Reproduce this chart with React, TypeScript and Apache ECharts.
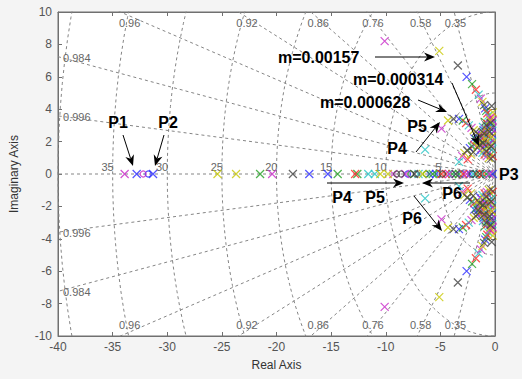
import React, { useEffect, useRef } from "react";
import * as echarts from "echarts";

// ---- axis setup ----
const X_MIN = -40;
const X_MAX = 0;
const X_STEP = 5;
const Y_MIN = -10;
const Y_MAX = 10;
const Y_STEP = 2;

// ---- s-plane grid (sgrid) ----
const dampingRatios = [0.35, 0.58, 0.76, 0.86, 0.92, 0.96, 0.984, 0.996];
const naturalFreqs = [5, 10, 15, 20, 25, 30, 35, 40];
const freqLabels = [5, 10, 15, 20, 25, 30, 35];

// ---- poles on the real axis (x markers) [re, color] ----
const realPoles: [number, string][] = [
  [-33.9, "m"], [-32.8, "b"], [-31.3, "b"], [-25.4, "y"], [-23.7, "y"],
  [-21.5, "g"], [-20.4, "m"], [-18.5, "k"], [-17.0, "b"], [-15.3, "b"],
  [-14.4, "g"], [-12.8, "r"], [-12.6, "g"], [-11.6, "c"], [-11.0, "c"],
  [-10.5, "y"], [-9.8, "y"], [-9.3, "m"], [-8.2, "m"], [-7.4, "k"],
  [-7.0, "c"], [-6.6, "y"], [-6.0, "b"], [-5.7, "g"], [-5.4, "b"],
  [-4.9, "r"], [-4.5, "r"], [-4.2, "m"], [-3.9, "g"], [-3.6, "k"],
  [-3.3, "g"], [-2.9, "r"], [-2.6, "m"], [-2.3, "b"], [-2.0, "c"],
  [-1.7, "g"], [-1.4, "k"], [-1.1, "r"], [-0.8, "g"], [-0.5, "m"], [-0.2, "b"],
];

// ---- zeros on the real axis (o markers) [re, color] ----
const realZeros: [number, string][] = [
  [-32.2, "m"], [-31.75, "b"], [-9.0, "k"], [-8.6, "k"], [-8.0, "b"],
  [-7.7, "g"], [-7.2, "k"], [-6.3, "g"], [-5.2, "g"], [-4.8, "k"],
  [-4.0, "c"], [-3.1, "b"], [-2.1, "k"], [-1.5, "r"], [-0.9, "c"],
];

// ---- complex poles, upper half-plane (mirrored) [re, im, color] ----
const complexPoles: [number, number, string][] = [
  [-10.1, 8.2, "m"], [-5.1, 7.6, "y"], [-3.4, 6.7, "k"], [-2.6, 6.0, "b"],
  [-2.1, 5.55, "g"], [-1.75, 5.2, "r"], [-1.5, 4.9, "c"], [-1.3, 4.65, "m"],
  [-1.15, 4.45, "y"], [-1.0, 4.25, "k"], [-0.9, 4.05, "b"], [-0.8, 3.9, "g"],
  [-0.7, 3.75, "r"], [-0.6, 3.6, "c"], [-0.5, 3.45, "m"], [-0.45, 3.3, "y"],
  [-0.4, 3.15, "k"], [-0.35, 3.0, "b"],
  [-6.4, 1.5, "c"], [-4.9, 2.8, "m"], [-4.3, 3.3, "y"], [-3.8, 3.4, "k"],
  [-3.3, 3.4, "b"], [-2.95, 3.3, "g"], [-2.65, 3.15, "r"], [-2.4, 3.0, "c"],
  [-2.15, 2.85, "m"], [-1.95, 2.7, "y"], [-1.75, 2.6, "k"], [-1.6, 2.5, "b"],
  [-1.45, 2.4, "g"], [-1.3, 2.3, "r"],
  [-3.3, 0.75, "c"], [-3.0, 1.1, "m"], [-2.8, 1.3, "y"], [-2.55, 1.45, "k"],
  [-2.3, 1.6, "b"], [-2.1, 1.7, "g"], [-1.9, 1.8, "r"], [-1.7, 1.9, "c"],
  [-1.5, 2.0, "m"],
  [-1.2, 2.6, "y"], [-1.0, 2.5, "k"], [-0.8, 2.4, "b"], [-0.6, 2.3, "g"], [-0.4, 2.2, "r"],
  [-1.1, 2.9, "c"], [-0.9, 2.8, "m"], [-0.7, 2.7, "y"], [-0.5, 2.6, "k"], [-0.3, 2.5, "b"],
  [-0.9, 3.2, "g"], [-0.7, 3.1, "r"], [-0.5, 3.0, "c"], [-0.25, 2.8, "m"],
  [-1.3, 2.0, "y"], [-1.1, 1.9, "k"], [-0.9, 1.8, "b"], [-0.7, 1.7, "g"], [-0.5, 1.6, "r"], [-0.3, 1.5, "c"],
  [-1.2, 1.6, "m"], [-1.0, 1.5, "y"], [-0.8, 1.4, "k"], [-0.6, 1.3, "b"], [-0.4, 1.2, "g"], [-0.2, 1.1, "r"],
  [-0.25, 2.0, "c"], [-0.2, 3.3, "m"], [-0.2, 3.8, "y"], [-0.3, 4.2, "k"],
  [-1.9, 2.2, "b"], [-1.7, 2.1, "g"], [-1.55, 2.25, "k"], [-1.4, 2.15, "c"], [-1.25, 2.45, "m"],
  [-1.05, 2.3, "r"], [-0.85, 2.15, "y"], [-0.65, 2.0, "c"], [-0.45, 1.9, "m"], [-0.35, 1.7, "k"],
  [-1.0, 2.05, "g"], [-0.8, 1.95, "r"], [-0.6, 1.85, "b"], [-0.4, 1.75, "y"],
  [-1.05, 2.7, "b"], [-0.85, 2.6, "r"], [-0.65, 2.5, "c"], [-0.45, 2.4, "m"], [-0.3, 2.3, "y"],
  [-0.8, 3.0, "k"], [-0.6, 2.9, "b"], [-0.4, 2.8, "g"], [-0.35, 3.5, "r"], [-0.25, 3.1, "c"],
  [-1.4, 1.8, "k"], [-1.6, 1.7, "y"], [-1.35, 1.45, "b"], [-1.15, 1.3, "c"], [-0.95, 1.2, "r"],
  [-0.75, 1.1, "m"], [-0.55, 1.0, "y"], [-0.35, 0.95, "k"],
  [-2.5, 0.9, "r"], [-2.2, 1.2, "y"], [-2.0, 1.35, "k"],
];

// ---- annotations (pixel layout) ----
const annotations: { text: string; x: number; y: number; align: string }[] = [
  { text: "P1", x: 118, y: 122, align: "center" },
  { text: "P2", x: 168, y: 122, align: "center" },
  { text: "m=0.00157", x: 278, y: 57, align: "left" },
  { text: "m=0.000314", x: 353, y: 79, align: "left" },
  { text: "m=0.000628", x: 320, y: 102, align: "left" },
  { text: "P5", x: 417, y: 126, align: "center" },
  { text: "P4", x: 397, y: 148, align: "center" },
  { text: "P4", x: 342, y: 197, align: "center" },
  { text: "P5", x: 375, y: 197, align: "center" },
  { text: "P6", x: 452, y: 193, align: "center" },
  { text: "P6", x: 412, y: 218, align: "center" },
  { text: "P3", x: 499, y: 174, align: "left" },
];
const arrows: [number, number, number, number][] = [
  [123, 135, 133, 166],
  [164, 135, 155, 166],
  [375, 57, 435, 57],
  [452, 83, 479, 146],
  [418, 100, 447, 112],
  [416, 152, 440, 122],
  [327, 183, 404, 183],
  [470, 183, 422, 183],
  [414, 196, 442, 231],
];

const COLORS: Record<string, string> = {
  b: "#2828ff",
  g: "#22a022",
  r: "#ff2424",
  c: "#22c4c4",
  m: "#c828c8",
  y: "#c8c800",
  k: "#404040",
};

const CROSS = "path://M0,0L10,10M10,0L0,10";
const FONT = '"Liberation Sans", Arial, Helvetica, sans-serif';
const GRID_COLOR = "#858585";

function arrowGraphics(x1: number, y1: number, x2: number, y2: number) {
  const dx = x2 - x1;
  const dy = y2 - y1;
  const len = Math.sqrt(dx * dx + dy * dy);
  const ux = dx / len;
  const uy = dy / len;
  const px = -uy;
  const py = ux;
  const hl = 11;
  const hw = 4.5;
  const bx = x2 - ux * hl;
  const by = y2 - uy * hl;
  const nx = x2 - ux * hl * 0.7;
  const ny = y2 - uy * hl * 0.7;
  return [
    {
      type: "line",
      z: 100,
      shape: { x1, y1, x2: nx, y2: ny },
      style: { stroke: "#000", lineWidth: 1 },
      silent: true,
    },
    {
      type: "polygon",
      z: 100,
      shape: {
        points: [
          [x2, y2],
          [bx + px * hw, by + py * hw],
          [nx, ny],
          [bx - px * hw, by - py * hw],
        ],
      },
      style: { fill: "#000" },
      silent: true,
    },
  ];
}

export default function App() {
  const ref = useRef<HTMLDivElement>(null);

  useEffect(() => {
    if (!ref.current) return;
    const chart = echarts.init(ref.current, null, { renderer: "svg" });

    const series: any[] = [];

    // sgrid damping lines
    const zetaLines: any[] = [];
    dampingRatios.forEach((z) => {
      const s = Math.sqrt(1 - z * z);
      zetaLines.push([-80 * z, 80 * s], [0, 0], [-80 * z, -80 * s], null);
    });
    zetaLines.push([-80, 0], [0, 0]);
    series.push({
      type: "line",
      data: zetaLines,
      connectNulls: false,
      showSymbol: false,
      silent: true,
      clip: true,
      z: 1,
      lineStyle: { color: GRID_COLOR, width: 1, type: [3, 3] },
    });
    // sgrid natural frequency arcs
    naturalFreqs.forEach((wn) => {
      const pts: number[][] = [];
      for (let a = 90; a <= 270; a += 2) {
        const r = (a * Math.PI) / 180;
        pts.push([wn * Math.cos(r), wn * Math.sin(r)]);
      }
      series.push({
        type: "line",
        data: pts,
        showSymbol: false,
        silent: true,
        clip: true,
        z: 1,
        lineStyle: { color: GRID_COLOR, width: 1, type: [3, 3] },
      });
    });

    // poles / zeros
    Object.keys(COLORS).forEach((k) => {
      const xs: number[][] = [];
      realPoles.filter((p) => p[1] === k).forEach((p) => xs.push([p[0], 0]));
      complexPoles
        .filter((p) => p[2] === k)
        .forEach((p) => {
          xs.push([p[0], p[1]]);
          xs.push([p[0], -p[1]]);
        });
      series.push({
        type: "scatter",
        data: xs,
        symbol: CROSS,
        symbolSize: 8,
        z: 5,
        itemStyle: { color: COLORS[k], borderColor: COLORS[k], borderWidth: 1.2 },
      });
      const os = realZeros.filter((p) => p[1] === k).map((p) => [p[0], 0]);
      series.push({
        type: "scatter",
        data: os,
        symbol: "circle",
        symbolSize: 6,
        z: 5,
        itemStyle: { color: "rgba(0,0,0,0)", borderColor: COLORS[k], borderWidth: 1.2 },
      });
    });

    const axisCommon = {
      axisLine: { show: true, onZero: false, lineStyle: { color: "#707070", width: 1 } },
      axisTick: { show: true, inside: true, length: 4, lineStyle: { color: "#707070" } },
      splitLine: { show: false },
    };

    chart.setOption({
      animation: false,
      backgroundColor: "#f4f4f4",
      grid: {
        left: 57,
        right: 27,
        top: 12,
        bottom: 43,
        show: true,
        backgroundColor: "#ffffff",
        borderColor: "#707070",
        borderWidth: 1,
      },
      xAxis: [
        {
          type: "value",
          min: X_MIN,
          max: X_MAX,
          interval: X_STEP,
          position: "bottom",
          name: "Real Axis",
          nameLocation: "middle",
          nameGap: 23,
          nameTextStyle: { color: "#333", fontSize: 12, fontFamily: FONT },
          axisLabel: { color: "#555", fontSize: 12, fontFamily: FONT, margin: 5 },
          ...axisCommon,
        },
        {
          type: "value",
          min: X_MIN,
          max: X_MAX,
          interval: X_STEP,
          position: "top",
          axisLabel: { show: false },
          ...axisCommon,
        },
      ],
      yAxis: [
        {
          type: "value",
          min: Y_MIN,
          max: Y_MAX,
          interval: Y_STEP,
          position: "left",
          name: "Imaginary Axis",
          nameLocation: "middle",
          nameGap: 38,
          nameRotate: 90,
          nameTextStyle: { color: "#333", fontSize: 12, fontFamily: FONT },
          axisLabel: { color: "#555", fontSize: 12, fontFamily: FONT, margin: 6 },
          ...axisCommon,
        },
        {
          type: "value",
          min: Y_MIN,
          max: Y_MAX,
          interval: Y_STEP,
          position: "right",
          axisLabel: { show: false },
          ...axisCommon,
        },
      ],
      series,
    });

    // grid labels and annotations (positions via the chart's own scales)
    const toPx = (x: number, y: number) =>
      chart.convertToPixel({ xAxisIndex: 0, yAxisIndex: 0 }, [x, y]) as number[];
    const [leftPx, topPx] = toPx(X_MIN, Y_MAX);
    const [, bottomPx] = toPx(X_MIN, Y_MIN);
    const graphics: any[] = [];
    const labelStyle = { fill: "#666", font: `11px ${FONT}` };

    dampingRatios.forEach((z) => {
      const s = Math.sqrt(1 - z * z);
      const t = s / z; // slope im/re
      const xAtTop = -Y_MAX / t;
      if (xAtTop >= X_MIN) {
        const [px] = toPx(xAtTop, Y_MAX);
        const cx = px + z * z * 10;
        graphics.push({
          type: "text",
          z: 50,
          x: cx,
          y: topPx + 11,
          style: { ...labelStyle, text: String(z), align: "center", verticalAlign: "middle" },
          silent: true,
        });
        graphics.push({
          type: "text",
          z: 50,
          x: cx,
          y: bottomPx - 11,
          style: { ...labelStyle, text: String(z), align: "center", verticalAlign: "middle" },
          silent: true,
        });
      } else {
        const yAtLeft = -X_MIN * t;
        const [, py] = toPx(X_MIN, yAtLeft);
        const [, pyl] = toPx(X_MIN, -yAtLeft);
        graphics.push({
          type: "text",
          z: 50,
          x: leftPx + 5,
          y: py + 1,
          style: { ...labelStyle, text: String(z), align: "left", verticalAlign: "middle" },
          silent: true,
        });
        graphics.push({
          type: "text",
          z: 50,
          x: leftPx + 5,
          y: pyl + 1,
          style: { ...labelStyle, text: String(z), align: "left", verticalAlign: "middle" },
          silent: true,
        });
      }
    });

    freqLabels.forEach((wn) => {
      const [px, py] = toPx(-wn, 0);
      graphics.push({
        type: "text",
        z: 4,
        x: px + 1,
        y: py - 2,
        style: { ...labelStyle, text: String(wn), align: "right", verticalAlign: "bottom" },
        silent: true,
      });
    });

    annotations.forEach((a) => {
      graphics.push({
        type: "text",
        z: 100,
        x: a.x,
        y: a.y,
        style: {
          text: a.text,
          fill: "#000",
          font: `bold 16px ${FONT}`,
          align: a.align,
          verticalAlign: "middle",
        },
        silent: true,
      });
    });
    arrows.forEach((ar) => graphics.push(...arrowGraphics(ar[0], ar[1], ar[2], ar[3])));

    chart.setOption({ graphic: graphics });

    return () => chart.dispose();
  }, []);

  return (
    <div
      ref={ref}
      style={{ position: "absolute", left: 0, top: 0, width: 522, height: 379 }}
    />
  );
}
